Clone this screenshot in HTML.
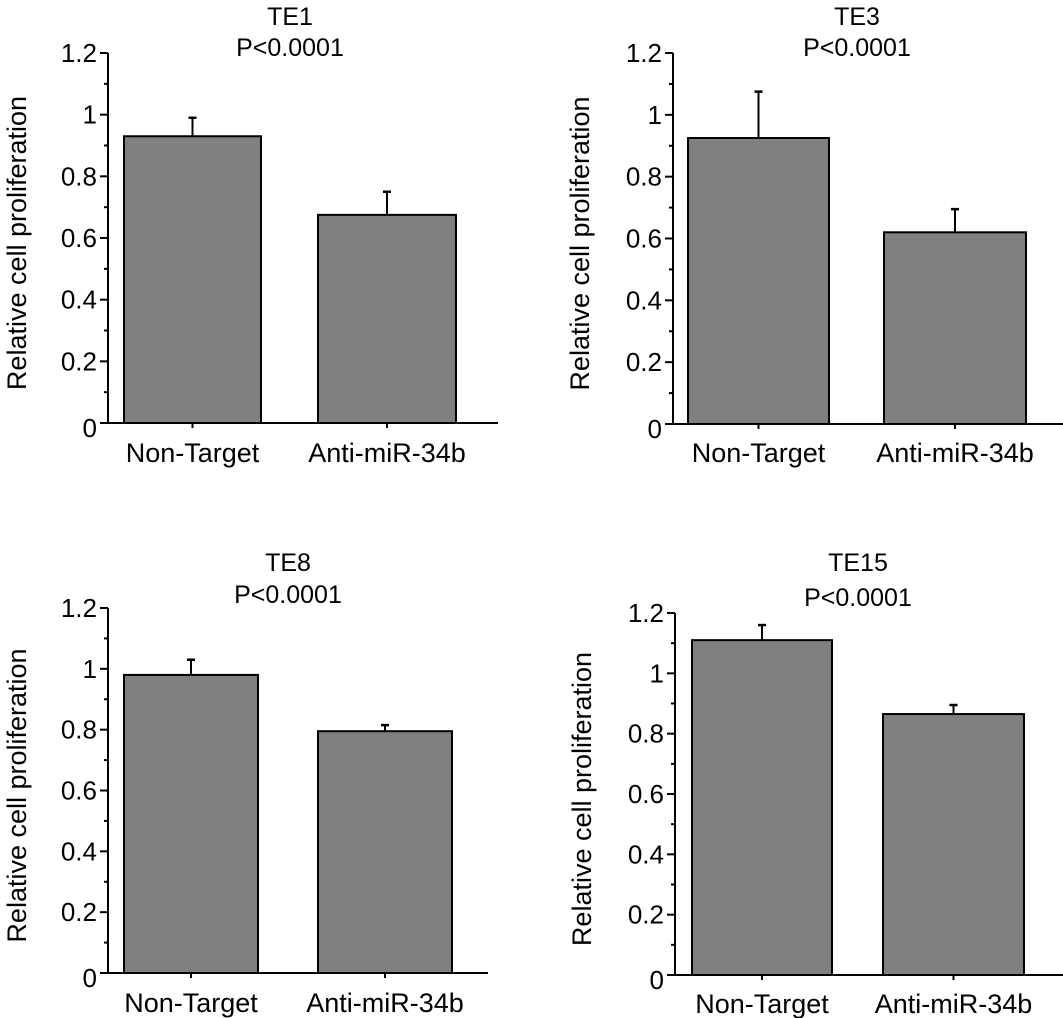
<!DOCTYPE html>
<html><head><meta charset="utf-8"><style>
html,body{margin:0;padding:0;background:#fff;}
svg{display:block;font-family:"Liberation Sans",Arial,sans-serif;}
</style></head><body>
<svg id="fig" width="1063" height="1018" viewBox="0 0 1063 1018"></svg>
<script>
const categories = ["Non-Target", "Anti-miR-34b"];
const panelTitles = ["TE1", "TE3", "TE8", "TE15"];
const pLabel = "P<0.0001";
const yTickLabels = ["0", "0.2", "0.4", "0.6", "0.8", "1", "1.2"];
const yTickValues = [0, 0.2, 0.4, 0.6, 0.8, 1.0, 1.2];
const te1Values = [0.93, 0.675];
const te1Errors = [0.06, 0.075];
const te3Values = [0.925, 0.62];
const te3Errors = [0.15, 0.075];
const te8Values = [0.98, 0.795];
const te8Errors = [0.05, 0.02];
const te15Values = [1.11, 0.865];
const te15Errors = [0.05, 0.03];
const allValues = [te1Values, te3Values, te8Values, te15Values];
const allErrors = [te1Errors, te3Errors, te8Errors, te15Errors];

// layout (pixels)
const layouts = [
  {ax:108, y0:423, yTop:53, xEnd:498, bars:[[124,261],[318,456]], ylx:16, t1:16, t2:47, xl:452},
  {ax:673, y0:424, yTop:53, xEnd:1063, bars:[[688,829],[884,1026]], ylx:579, t1:16, t2:47, xl:452},
  {ax:108, y0:973, yTop:608, xEnd:488, bars:[[124,258],[318,452]], ylx:16, t1:562, t2:594, xl:1002},
  {ax:675, y0:975, yTop:613, xEnd:1063, bars:[[692,832],[883,1024]], ylx:581, t1:562, t2:597, xl:1003}
];
const NS = "http://www.w3.org/2000/svg";
const svg = document.getElementById('fig');
function mk(tag, attrs, parent){
  const e = document.createElementNS(NS, tag);
  for (const k in attrs) e.setAttribute(k, attrs[k]);
  parent.appendChild(e);
  return e;
}
layouts.forEach((L, p) => {
  const g = mk('g', {}, svg);
  
  
  const yScale = v => L.y0 - (v / 1.2) * (L.y0 - L.yTop);
  const midBars = (L.bars[0][0] + L.bars[1][1]) / 2;
  const t = mk('text', {x: midBars, y: L.t1 + 9, 'font-size': 25, 'text-anchor': 'middle'}, g);
  t.textContent = panelTitles[p];
  
  
  const pt = mk('text', {x: midBars, y: L.t2 + 9, 'font-size': 25, 'text-anchor': 'middle'}, g);
  pt.textContent = pLabel;
  
  
  allValues[p].forEach((v, i) => {
    const [x1, x2] = L.bars[i];
    const yt = yScale(v);
    const xm = (x1 + x2) / 2;
    const ye = yScale(v + allErrors[p][i]);
    const el = mk('line', {x1: xm, x2: xm, y1: yt, y2: ye, stroke: '#000', 'stroke-width': 2}, g);
    
    
    const cap = mk('line', {x1: xm - 4, x2: xm + 4, y1: ye, y2: ye, stroke: '#000', 'stroke-width': 2.5}, g);
    
    
    const r = mk('rect', {x: x1, y: yt, width: x2 - x1, height: L.y0 - yt, fill: '#808080', stroke: '#000', 'stroke-width': 2}, g);
    
    
    const tx = mk('line', {x1: xm, x2: xm, y1: L.y0, y2: L.y0 + 5, stroke: '#000', 'stroke-width': 2}, g);
    
    
    const lb = mk('text', {x: xm, y: L.xl + 10, 'font-size': 27, 'text-anchor': 'middle'}, g);
    lb.textContent = categories[i];
    
    
  });
  const ya = mk('line', {x1: L.ax, x2: L.ax, y1: L.yTop, y2: L.y0, stroke: '#000', 'stroke-width': 2}, g);
  
  
  const xa = mk('line', {x1: L.ax - 8, x2: L.xEnd, y1: L.y0, y2: L.y0, stroke: '#000', 'stroke-width': 2}, g);
  
  
  yTickValues.forEach((v, i) => {
    const y = yScale(v);
    const tk = mk('line', {x1: L.ax - 8, x2: L.ax, y1: y, y2: y, stroke: '#000', 'stroke-width': 2}, g);
    
    
    if (i < yTickValues.length - 1) {
      const ym = yScale(v + 0.1);
      const mt = mk('line', {x1: L.ax - 4, x2: L.ax, y1: ym, y2: ym, stroke: '#000', 'stroke-width': 2}, g);
      
      
    }
    const tl = mk('text', {x: L.ax - 11, y: y + (i === 0 ? 14 : 9), 'font-size': 26, 'text-anchor': 'end'}, g);
    tl.textContent = yTickLabels[i];
    
    
  });
  const ymid = (L.y0 + L.yTop) / 2 + 5;
  const yl = mk('text', {x: 0, y: 0, 'font-size': 27, 'text-anchor': 'middle', transform: `translate(${L.ylx + 10},${ymid}) rotate(-90)`}, g);
  yl.textContent = 'Relative cell proliferation';
  
  
});
</script>
</body></html>
